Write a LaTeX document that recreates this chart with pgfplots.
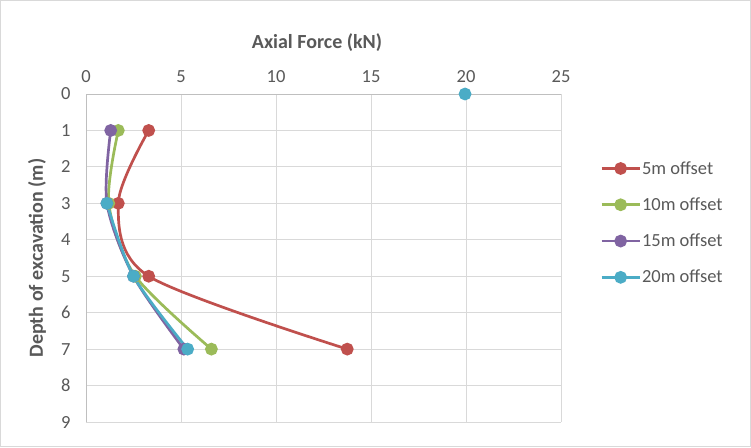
\documentclass[border=0pt]{standalone}
\usepackage{pgfplots}
\pgfplotsset{compat=1.18}
\usepackage{fontspec}
\setmainfont{Carlito}
\definecolor{cA}{HTML}{C0504D}
\definecolor{cB}{HTML}{9BBB59}
\definecolor{cC}{HTML}{8064A2}
\definecolor{cD}{HTML}{4BACC6}
\definecolor{txt}{HTML}{595959}
\definecolor{gridc}{HTML}{D9D9D9}
\definecolor{axc}{HTML}{BFBFBF}
\begin{document}
\begin{tikzpicture}[x=1pt,y=1pt]
\draw[gridc, fill=white, line width=1pt] (0.5,0.5) rectangle (750.5,446.5);
\begin{axis}[
  at={(86pt,25pt)}, anchor=south west,
  width=475pt, height=328pt, scale only axis,
  xmin=0, xmax=25, ymin=0, ymax=9, y dir=reverse,
  xtick={0,5,10,15,20,25}, ytick={0,1,2,3,4,5,6,7,8,9},
  grid=major, grid style={gridc, line width=1pt},
  axis line style={draw=none},
  major tick length=0pt,
  xticklabel pos=upper,
  tick label style={font=\fontsize{18.5}{18.5}\selectfont, text=txt},
  /pgf/number format/assume math mode=true,
  xticklabel style={yshift=8pt},
  yticklabel style={xshift=-12pt},
  clip=false,
  every axis plot/.append style={line width=2.7pt, mark=*, mark size=5pt, smooth, tension=0.5},
  legend style={at={(1.076,0.607)}, anchor=west, draw=none, fill=none,
    font=\fontsize{18.5}{18.5}\selectfont, text=txt, row sep=20pt,
    nodes={inner sep=1pt}},
  legend cell align=left,
  legend image code/.code={\draw[mark repeat=2, mark phase=2] plot coordinates {(0pt,0pt)(19pt,0pt)(38pt,0pt)};},
]
\addplot[cA, mark options={fill=cA}] coordinates {(3.3,1) (1.7,3) (3.3,5) (13.75,7)};
\addlegendentry{5m offset}
\addplot[cB, mark options={fill=cB}] coordinates {(1.7,1) (1.2,3) (2.6,5) (6.6,7)};
\addlegendentry{10m offset}
\addplot[cC, mark options={fill=cC}] coordinates {(1.3,1) (1.1,3) (2.5,5) (5.15,7)};
\addlegendentry{15m offset}
\addplot[cD, mark options={fill=cD}] coordinates {(1.1,3) (2.5,5) (5.35,7)};
\addlegendentry{20m offset}
\addplot[cD, mark options={fill=cD}, forget plot] coordinates {(19.95,0)};
\draw[axc, line width=1pt] (axis cs:0,9) -- (axis cs:0,0) -- (axis cs:25,0);
\end{axis}
\node[text=txt, font=\bfseries\fontsize{20}{20}\selectfont] at (317,404) {Axial Force (kN)};
\node[text=txt, font=\bfseries\fontsize{20}{20}\selectfont, rotate=90] at (37,189) {Depth of excavation (m)};
\end{tikzpicture}
\end{document}
